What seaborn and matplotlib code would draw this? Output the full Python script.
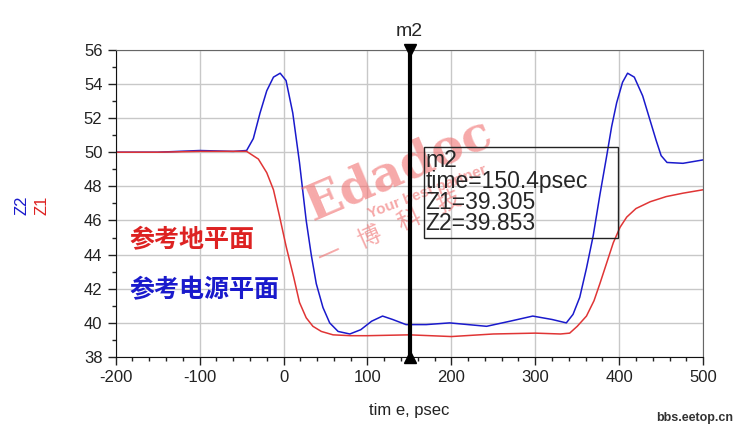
import numpy as np
import pandas as pd
import seaborn as sns
import matplotlib.pyplot as plt
from matplotlib.ticker import MultipleLocator
from matplotlib.patches import Rectangle

# Z1 (reference ground plane)
t_z1 = [-200, -150, -100, -60, -44, -30, -20, -12, -5, 3, 12, 19, 27, 35, 45, 59, 80,
        100, 150, 200, 250, 300, 330, 341, 350, 361, 370, 377, 385, 393, 401, 409,
        420, 437, 456, 476, 500]
z1 = [50.0, 50.0, 50.05, 50.05, 50.05, 49.6, 48.8, 47.8, 46.3, 44.5, 42.7, 41.2, 40.3,
      39.8, 39.5, 39.3, 39.25, 39.25, 39.3, 39.2, 39.35, 39.4, 39.35, 39.4, 39.8, 40.4,
      41.3, 42.3, 43.5, 44.7, 45.6, 46.2, 46.7, 47.1, 47.4, 47.6, 47.8]

# Z2 (reference power plane)
t_z2 = [-200, -150, -100, -60, -44, -36, -28, -20, -12, -4, 3, 11, 19, 27, 33, 39, 47,
        55, 65, 79, 92, 105, 118, 130, 146, 170, 198, 220, 242, 270, 297, 320, 337,
        345, 353, 361, 369, 377, 385, 391, 397, 404, 410, 418, 428, 436, 444, 450,
        457, 476, 500]
z2 = [50.0, 50.0, 50.1, 50.05, 50.1, 50.8, 52.3, 53.6, 54.4, 54.63, 54.2, 52.3, 49.4,
      46.0, 44.0, 42.3, 40.9, 40.0, 39.5, 39.35, 39.6, 40.1, 40.4, 40.2, 39.9, 39.9,
      40.0, 39.9, 39.8, 40.1, 40.4, 40.2, 40.0, 40.5, 41.5, 43.2, 45.1, 47.5, 49.75,
      51.5, 52.9, 54.1, 54.63, 54.4, 53.3, 52.0, 50.7, 49.8, 49.4, 49.35, 49.55]

marker_t = 150.4
marker_lines = ["m2", "time=150.4psec", "Z1=39.305", "Z2=39.853"]

sns.set_style("white")
plt.rcParams['font.family'] = ['Liberation Sans', 'Noto Sans CJK SC', 'DejaVu Sans']
plt.rcParams['axes.unicode_minus'] = False

fig = plt.figure(figsize=(7.37, 4.37), dpi=100)
ax = fig.add_axes([0.157, 0.183, 0.797, 0.703])

df1 = pd.DataFrame({"t": t_z1, "z": z1})
df2 = pd.DataFrame({"t": t_z2, "z": z2})
sns.lineplot(data=df2, x="t", y="z", color="#1a1acc", lw=1.1, ax=ax)
sns.lineplot(data=df1, x="t", y="z", color="#e03535", lw=1.1, ax=ax)

ax.set_xlim(-200, 500)
ax.set_ylim(38, 56)
ax.xaxis.set_major_locator(MultipleLocator(100))
ax.xaxis.set_minor_locator(MultipleLocator(20))
ax.yaxis.set_major_locator(MultipleLocator(2))
ax.yaxis.set_minor_locator(MultipleLocator(1))
ax.grid(True, which="major", color="#c8c8c8", lw=1)
ax.tick_params(which="major", direction="out", length=6, width=1, color="#222",
               labelsize=12, labelcolor="#222", left=True, bottom=True)
ax.tick_params(which="minor", direction="out", length=3, width=1, color="#222",
               left=True, bottom=True)
for s in ["left", "bottom"]:
    ax.spines[s].set_color("#111")
for s in ["top", "right"]:
    ax.spines[s].set_color("#666")
ax.set_xlabel("tim e, psec", fontsize=12, color="#222", labelpad=13)
ax.set_ylabel("")

# watermark
wm = dict(color="#f07070", alpha=0.6, ha="center", va="center", zorder=5)
ax.text(137, 49.0, "Edadoc", fontsize=35, fontweight="bold", rotation=23,
        family="DejaVu Serif", **wm)
ax.text(172, 47.7, "Your best partner", fontsize=11, fontweight="bold", rotation=21, **wm)
ax.text(127, 45.5, "一   博   科   技", fontsize=17, rotation=24, **wm)

# marker
ax.axvline(marker_t, color="black", lw=3, zorder=6)
ax.plot([marker_t], [56], marker="v", color="black", ms=9, clip_on=False, zorder=7)
ax.plot([marker_t], [38], marker="^", color="black", ms=9, clip_on=False, zorder=7)
ax.text(marker_t, 56.6, "m2", fontsize=14, ha="center", va="bottom")
ax.add_patch(Rectangle((167.3, 44.98), 231.3, 5.33, fc="none", ec="#222", lw=1,
                       zorder=8))
ax.text(169, 50.2, "\n".join(marker_lines), fontsize=16.5, ha="left", va="top",
        linespacing=0.9, zorder=8)

ax.text(-184, 44.86, "参考地平面", fontsize=18, fontweight="bold", color="#dd2222",
        va="center")
ax.text(-184, 41.93, "参考电源平面", fontsize=18, fontweight="bold", color="#1a1acc",
        va="center")

fig.text(0.030, 0.53, "Z2", rotation=90, color="#1a1acc", fontsize=12,
         ha="center", va="center")
fig.text(0.057, 0.53, "Z1", rotation=90, color="#dd2222", fontsize=12,
         ha="center", va="center")
fig.text(0.995, 0.03, "bbs.eetop.cn", fontsize=9, fontweight="bold", color="#333",
         ha="right", va="bottom")

plt.savefig("out.png", dpi=100)
